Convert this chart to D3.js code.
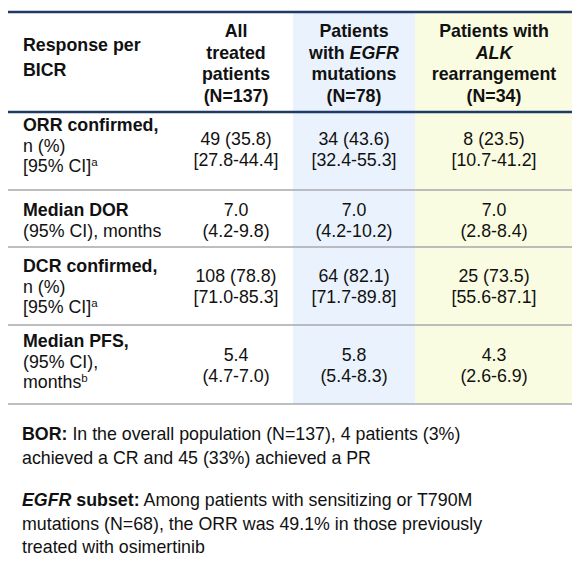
<!DOCTYPE html>
<html>
<head>
<meta charset="utf-8">
<script src="https://cdn.jsdelivr.net/npm/d3@7"></script>
<style>
  html, body { margin: 0; padding: 0; background: #ffffff; }
  svg { display: block; font-family: "Liberation Sans", Arial, sans-serif; }
</style>
</head>
<body>
<svg id="chart" width="582" height="570"></svg>
<script>
// ---------- data ----------
const stubHeader = ["Response per", "BICR"];
const groups = ["all", "egfr", "alk"];
const groupHeaders = [
  ["All", "treated", "patients", "(N=137)"],
  ["Patients", "with <i>EGFR</i>", "mutations", "(N=78)"],
  ["Patients with", "<i>ALK</i>", "rearrangement", "(N=34)"]
];
const rowLabels = [
  ["<b>ORR confirmed,</b>", "n (%)", "[95% CI]<sup>a</sup>"],
  ["<b>Median DOR</b>", "(95% CI), months"],
  ["<b>DCR confirmed,</b>", "n (%)", "[95% CI]<sup>a</sup>"],
  ["<b>Median PFS,</b>", "(95% CI),", "months<sup>b</sup>"]
];
const allTreated = [["49 (35.8)", "[27.8-44.4]"], ["7.0", "(4.2-9.8)"], ["108 (78.8)", "[71.0-85.3]"], ["5.4", "(4.7-7.0)"]];
const egfrPatients = [["34 (43.6)", "[32.4-55.3]"], ["7.0", "(4.2-10.2)"], ["64 (82.1)", "[71.7-89.8]"], ["5.8", "(5.4-8.3)"]];
const alkPatients = [["8 (23.5)", "[10.7-41.2]"], ["7.0", "(2.8-8.4)"], ["25 (73.5)", "[55.6-87.1]"], ["4.3", "(2.6-6.9)"]];
const footnotes = [
  ["<b>BOR:</b> In the overall population (N=137), 4 patients (3%)", "achieved a CR and 45 (33%) achieved a PR"],
  ["<b><i>EGFR</i> subset:</b> Among patients with sensitizing or T790M", "mutations (N=68), the ORR was 49.1% in those previously", "treated with osimertinib"]
];

// ---------- layout ----------
const svg = d3.select("#chart");
const FS = 17.8, FFS = 17.8, LH = 20.5;
const tableLeft = 8, tableRight = 572, topY = 12, headY = 112;
const rowEdges = [112, 190, 247, 325, 404];
const colCenter = d3.scaleOrdinal().domain(groups).range([236, 354, 494]);
const colBand = d3.scaleOrdinal().domain(groups).range([[175, 293], [293, 415], [415, 572]]);
const colFill = d3.scaleOrdinal().domain(groups).range(["none", "#eaf3fd", "#fafce1"]);
const rowIdx = d3.range(rowLabels.length);
const labelBase = d3.scaleOrdinal().domain(rowIdx).range([131, 216, 272, 347]);
const valueBase = d3.scaleOrdinal().domain(rowIdx).range([145, 216, 282, 361]);
const groupValues = { all: allTreated, egfr: egfrPatients, alk: alkPatients };

function rich(textSel, str) {
  const parts = str.split(/(<\/?(?:b|i|sup)>)/);
  let b = false, it = false, sup = false;
  parts.forEach(p => {
    if (!p) return;
    const m = p.match(/^<(\/?)(b|i|sup)>$/);
    if (m) {
      const on = !m[1];
      if (m[2] === "b") b = on; else if (m[2] === "i") it = on; else sup = on;
      return;
    }
    const ts = textSel.append("tspan").text(p);
    if (b) ts.attr("font-weight", "bold");
    if (it) ts.attr("font-style", "italic");
    if (sup) ts.attr("font-size", 11.5).attr("dy", -6);
  });
}

// column backgrounds
svg.append("g").selectAll("rect")
  .data(groups.filter(g => colFill(g) !== "none"))
  .join("rect")
  .attr("x", g => colBand(g)[0])
  .attr("width", g => colBand(g)[1] - colBand(g)[0])
  .attr("y", topY)
  .attr("height", rowEdges[rowEdges.length - 1] - topY)
  .attr("fill", g => colFill(g));

// header stub
svg.append("g").selectAll("text")
  .data(stubHeader)
  .join("text")
  .attr("x", 23)
  .attr("y", (d, i) => 51 + i * 25)
  .attr("font-size", FS)
  .attr("font-weight", "bold")
  .attr("fill", "#111")
  .text(d => d);

// group headers
groups.forEach((g, gi) => {
  svg.append("g").selectAll("text")
    .data(groupHeaders[gi])
    .join("text")
    .attr("x", colCenter(g))
    .attr("y", (d, i) => 37 + i * 21.7)
    .attr("text-anchor", "middle")
    .attr("font-size", FS)
    .attr("font-weight", "bold")
    .attr("fill", "#111")
    .each(function (d) { rich(d3.select(this), d); });
});

// row labels
rowLabels.forEach((lines, r) => {
  svg.append("g").selectAll("text")
    .data(lines)
    .join("text")
    .attr("x", 23)
    .attr("y", (d, i) => labelBase(r) + i * LH)
    .attr("font-size", FS)
    .attr("fill", "#111")
    .each(function (d) { rich(d3.select(this), d); });
});

// values
groups.forEach(g => {
  groupValues[g].forEach((lines, r) => {
    svg.append("g").selectAll("text")
      .data(lines)
      .join("text")
      .attr("x", colCenter(g))
      .attr("y", (d, i) => valueBase(r) + i * LH)
      .attr("text-anchor", "middle")
      .attr("font-size", FS)
      .attr("fill", "#111")
      .text(d => d);
  });
});

// rules
svg.append("g").selectAll("line")
  .data(rowEdges.slice(1))
  .join("line")
  .attr("x1", tableLeft).attr("x2", tableRight)
  .attr("y1", d => d).attr("y2", d => d)
  .attr("stroke", "#a7a9ac").attr("stroke-width", 1.5);
svg.append("g").selectAll("line")
  .data([topY, headY])
  .join("line")
  .attr("x1", tableLeft).attr("x2", tableRight)
  .attr("y1", d => d).attr("y2", d => d)
  .attr("stroke", "#1f3a68").attr("stroke-width", 2.6);

// footnotes
const footStart = [440, 506];
footnotes.forEach((lines, f) => {
  svg.append("g").selectAll("text")
    .data(lines)
    .join("text")
    .attr("x", 22)
    .attr("y", (d, i) => footStart[f] + i * 23.7)
    .attr("font-size", FFS)
    .attr("fill", "#111")
    .each(function (d) { rich(d3.select(this), d); });
});
</script>
</body>
</html>
